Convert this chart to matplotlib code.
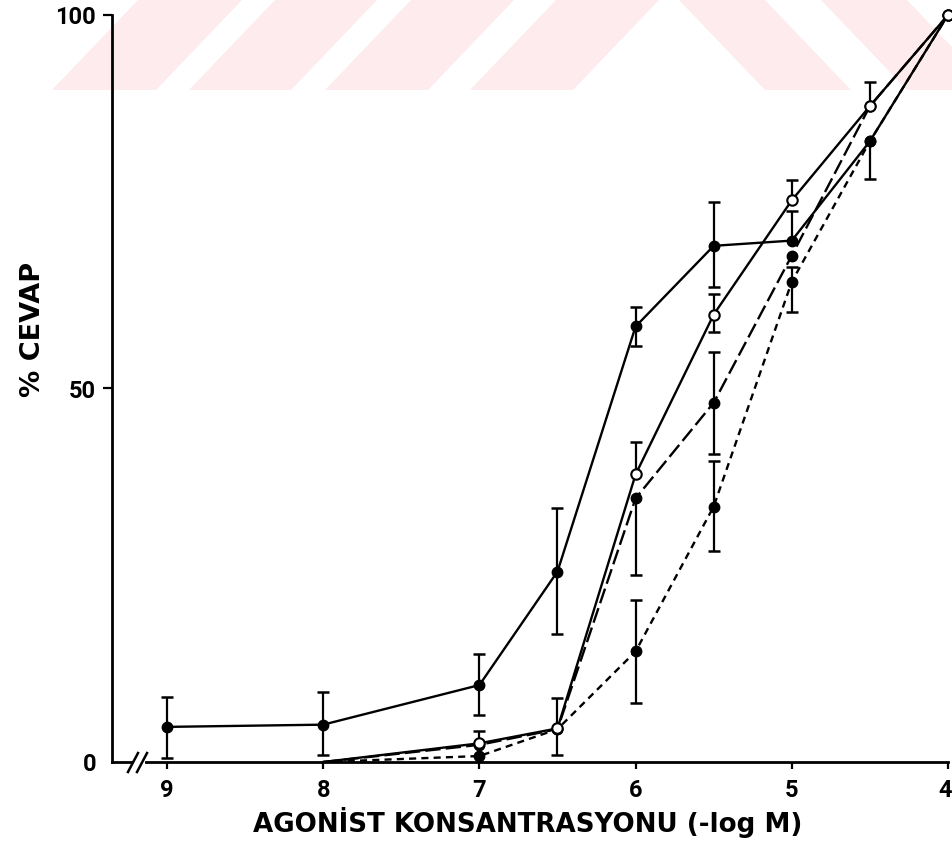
import numpy as np
import matplotlib
matplotlib.use('Agg')
import matplotlib.pyplot as plt
import matplotlib.transforms as mtransforms
from matplotlib.patches import Polygon

plt.rcParams['font.family'] = ['Roboto', 'DejaVu Sans']
plt.rcParams['font.weight'] = 'bold'

# Konsantrasyon (-log M)
x_tum = np.array([9, 8, 7, 6.5, 6, 5.5, 5, 4.5, 4])
x_kisa = np.array([8, 7, 6.5, 6, 5.5, 5, 4.5, 4])

# Seri 1: dolu daire, duz cizgi
y1 = np.array([4.7, 5.0, 10.3, 25.5, 58.3, 69.1, 69.8, 83.1, 100])
alt1 = np.array([4.2, 4.1, 4.0, 8.3, 2.6, 5.5, 0, 5.1, 0])
ust1 = np.array([4.0, 4.4, 4.2, 8.5, 2.6, 5.9, 4.0, 0, 0])

# Seri 2: bos daire, duz cizgi
y2 = np.array([0, 2.5, 4.5, 38.5, 59.9, 75.2, 87.8, 100])
alt2 = np.array([0, 0, 3.6, 0, 2.3, 0, 0, 0])
ust2 = np.array([0, 1.7, 4.1, 4.3, 2.8, 2.7, 3.2, 0])

# Seri 3: dolu daire, uzun kesikli
y3 = np.array([0, 2.3, 4.4, 35.3, 48.1, 67.8, 87.8, 100])
alt3 = np.array([0, 0, 0, 10.2, 6.9, 0, 0, 0])
ust3 = np.array([0, 0, 0, 0, 6.8, 0, 0, 0])

# Seri 4: dolu daire, kisa kesikli
y4 = np.array([0, 0.8, 4.4, 14.8, 34.2, 64.3, 83.1, 100])
alt4 = np.array([0, 0, 0, 6.9, 5.9, 4.0, 0, 0])
ust4 = np.array([0, 0, 0, 6.9, 6.1, 2.0, 0, 0])

x_etiketler = ['9', '8', '7', '6', '5', '4']
x_tikler = [9, 8, 7, 6, 5, 4]


def hata_cubuklari(ax, x, y, alt, ust):
    # Sadece sifirdan farkli hata cubuklarini ciz
    m = ust > 0
    ax.vlines(x[m], y[m], y[m] + ust[m], color='k', lw=1.6, zorder=2, clip_on=False)
    ax.plot(x[m], y[m] + ust[m], ls='none', marker='_', ms=8, mew=1.8, color='k', zorder=2, clip_on=False)
    m = alt > 0
    ax.vlines(x[m], y[m] - alt[m], y[m], color='k', lw=1.6, zorder=2, clip_on=False)
    ax.plot(x[m], y[m] - alt[m], ls='none', marker='_', ms=8, mew=1.8, color='k', zorder=2, clip_on=False)


fig = plt.figure(figsize=(9.53, 8.46), dpi=100)

# Arka plandaki soluk pembe filigran
W, H = 953.0, 846.0
pembe = '#fdebee'
yb, yt = 1 - 90 / H, 1.0
for a, b in [(52, 156), (189, 291), (325, 428), (470, 573)]:
    pts = [(a / W, yb), (b / W, yb), ((b + 86) / W, yt), ((a + 86) / W, yt)]
    fig.patches.append(Polygon(pts, closed=True, transform=fig.transFigure, fc=pembe, ec='none', zorder=-5))
for a, b in [(765, 851), (907, 993)]:
    pts = [(a / W, yb), (b / W, yb), ((b - 86) / W, yt), ((a - 86) / W, yt)]
    fig.patches.append(Polygon(pts, closed=True, transform=fig.transFigure, fc=pembe, ec='none', zorder=-5))

ax = fig.add_axes([112 / W, 1 - 762 / H, 836 / W, 747 / H])
ax.set_facecolor('none')

hata_cubuklari(ax, x_tum, y1, alt1, ust1)
hata_cubuklari(ax, x_kisa, y2, alt2, ust2)
hata_cubuklari(ax, x_kisa, y3, alt3, ust3)
hata_cubuklari(ax, x_kisa, y4, alt4, ust4)

isaret = range(1, len(x_kisa))
ax.plot(x_kisa, y4, color='k', lw=1.7, ls=(0, (3.0, 2.2)), marker='o', ms=7.5,
        mfc='k', mec='k', markevery=isaret, zorder=3, clip_on=False)
ax.plot(x_kisa, y3, color='k', lw=1.7, ls=(0, (6.5, 2.2)), marker='o', ms=7.5,
        mfc='k', mec='k', markevery=isaret, zorder=3, clip_on=False)
ax.plot(x_tum, y1, color='k', lw=1.7, marker='o', ms=7.5, mfc='k', mec='k', zorder=4, clip_on=False)
ax.plot(x_kisa, y2, color='k', lw=1.7, marker='o', ms=7.5, mfc='white', mec='k', mew=1.5,
        markevery=isaret, zorder=5, clip_on=False)

ax.set_xlim(9 + 55 / 156.2, 4)
ax.set_ylim(0, 100)
ax.set_xticks(x_tikler)
ax.set_xticklabels(x_etiketler)
ax.set_yticks([0, 50, 100])
ax.set_yticklabels(['0', '50', '100'])
ax.tick_params(axis='x', direction='out', length=5, width=1.6, pad=7, labelsize=17)
ax.tick_params(axis='y', direction='out', length=6.5, width=1.6, pad=5, labelsize=17)
ax.yaxis.get_major_ticks()[0].tick1line.set_visible(False)

# son etiketi ("4") biraz sola kaydir
kay = mtransforms.ScaledTranslation(-3 / 100, 0, fig.dpi_scale_trans)
son = ax.get_xticklabels()[-1]
son.set_transform(son.get_transform() + kay)

ax.spines['top'].set_visible(False)
ax.spines['right'].set_visible(False)
ax.spines['left'].set_linewidth(2.0)
ax.spines['bottom'].set_linewidth(2.0)

# Eksen kirilma isareti
ax.plot([0.028, 0.037], [0, 0], transform=ax.transAxes, color='white', lw=3, clip_on=False, zorder=6)
ax.plot([0.0191, 0.0311], [-0.0134, 0.012], transform=ax.transAxes, color='k', lw=1.8, clip_on=False, zorder=7)
ax.plot([0.0299, 0.0419], [-0.0134, 0.012], transform=ax.transAxes, color='k', lw=1.8, clip_on=False, zorder=7)

fig.text(528 / W, 1 - 832 / H, 'AGONİST KONSANTRASYONU (-log M)', ha='center', va='baseline',
         fontsize=18.8, fontweight='bold', family='DejaVu Sans')
fig.text(33 / W, 1 - 329 / H, '% CEVAP', ha='center', va='center', rotation=90,
         fontsize=19.5, fontweight='bold', family='DejaVu Sans')

fig.savefig('out.png', dpi=100)
